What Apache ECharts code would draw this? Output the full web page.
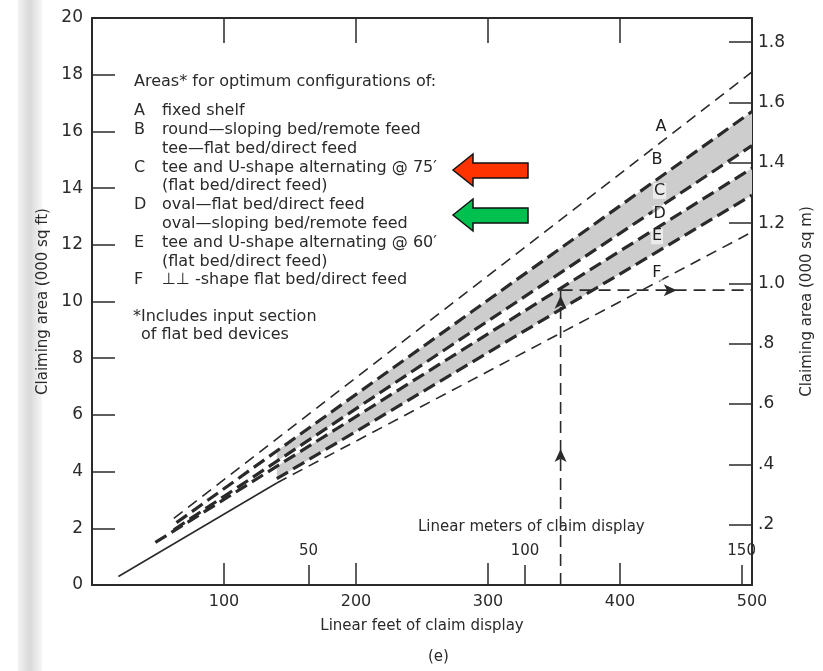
<!DOCTYPE html>
<html>
<head>
<meta charset="utf-8">
<script src="https://cdn.jsdelivr.net/npm/echarts@6/dist/echarts.min.js"></script>
<style>
  html, body { margin: 0; padding: 0; background: #fff; }
  #chart { width: 823px; height: 671px; }
</style>
</head>
<body>
<div id="chart"></div>
<script>
// === DATA ===
// x: linear feet of claim display, y: claiming area (000 sq ft)
const lineA = [[62, 2.35], [500, 18.1]];
const lineB = [[64, 2.2], [500, 16.7]];
const lineC = [[62, 1.95], [500, 15.5]];
const lineD = [[48, 1.5], [500, 14.7]];
const lineE = [[140, 3.75], [500, 13.75]];
const lineF = [[140, 3.6], [500, 12.45]];
const lineBase = [[20, 0.3], [140, 3.6]];

// shaded areas: [x, lower, upper]
const bandBC = [[140, 4.36, 4.73], [500, 15.5, 16.7]];
const bandDE = [[140, 3.75, 4.19], [500, 13.75, 14.7]];

// worked example: 355 ft -> 10.4 (000 sq ft)
const exampleUp = [[355, 0], [355, 10.4]];
const exampleAcross = [[355, 10.4], [500, 10.4]];
const exampleArrows = [[355, 4.8, 0], [355, 10.2, 0], [443, 10.4, -90]];

const letterNames = ['A', 'B', 'C', 'D', 'E', 'F'];
const letterPoints = [[431, 16.15], [428, 15.0], [430, 13.9], [430, 13.1], [428, 12.3], [428, 11.0]];

const feetTicks = [0, 100, 200, 300, 400, 500];
const meterTickLabels = [50, 100, 150];
const sqmLabels = ['.2', '.4', '.6', '.8', '1.0', '1.2', '1.4', '1.6', '1.8'];

const keyLines = [
    ['A', 'fixed shelf'],
    ['B', 'round\u2014sloping bed/remote feed'],
    ['', 'tee\u2014flat bed/direct feed'],
    ['C', 'tee and U-shape alternating @ 75\u2032'],
    ['', '(flat bed/direct feed)'],
    ['D', 'oval\u2014flat bed/direct feed'],
    ['', 'oval\u2014sloping bed/remote feed'],
    ['E', 'tee and U-shape alternating @ 60\u2032'],
    ['', '(flat bed/direct feed)'],
    ['F', '\u22A5\u22A5 -shape flat bed/direct feed']
];

const FT_PER_M = 3.28084;
const SQM_AXIS_MAX = 1.88;   // right scale as printed (0 .. just above 1.8)
const FONT = '"DejaVu Sans", "Open Sans", sans-serif';
const INK = '#2a2a2a';

const chart = echarts.init(document.getElementById('chart'));

function bandSeries(band) {
    return {
        type: 'custom',
        xAxisIndex: 0,
        yAxisIndex: 0,
        silent: true,
        z: 1,
        data: [0],
        renderItem: function (params, api) {
            const upper = band.map(p => api.coord([p[0], p[2]]));
            const lower = band.slice().reverse().map(p => api.coord([p[0], p[1]]));
            return {
                type: 'polygon',
                shape: { points: upper.concat(lower) },
                style: { fill: '#cdcdcd' }
            };
        }
    };
}

function dashLine(data, width, dash) {
    return {
        type: 'line',
        data: data,
        symbol: 'none',
        silent: true,
        z: 3,
        lineStyle: { color: INK, width: width, type: dash }
    };
}

// key text block
const keyFont = '16px ' + FONT;
const keyGraphics = [
    { type: 'text', left: 134, top: 74, style: { text: 'Areas* for optimum configurations of:', font: keyFont, fill: INK } }
];
keyLines.forEach((row, i) => {
    const y = 103 + i * 18.8;
    if (row[0]) {
        keyGraphics.push({ type: 'text', left: 134, top: y, style: { text: row[0], font: keyFont, fill: INK } });
    }
    keyGraphics.push({ type: 'text', left: 162, top: y, style: { text: row[1], font: keyFont, fill: INK } });
});
keyGraphics.push({ type: 'text', left: 133, top: 309, style: { text: '*Includes input section', font: keyFont, fill: INK } });
keyGraphics.push({ type: 'text', left: 141, top: 327, style: { text: 'of flat bed devices', font: keyFont, fill: INK } });

const option = {
    backgroundColor: '#fff',
    animation: false,
    textStyle: { fontFamily: FONT },
    grid: { left: 92, right: 69, top: 18, bottom: 86 },
    xAxis: [
        {
            type: 'value', position: 'bottom', min: 0, max: 500, interval: 100,
            axisLine: { onZero: false, lineStyle: { color: INK, width: 2 } },
            axisTick: { inside: true, length: 22, lineStyle: { color: INK, width: 1.5 } },
            axisLabel: {
                color: INK, fontSize: 16, margin: 9,
                formatter: v => (feetTicks.indexOf(v) > 0 ? String(v) : '')
            },
            splitLine: { show: false },
            name: 'Linear feet of claim display', nameLocation: 'middle', nameGap: 34,
            nameTextStyle: { color: INK, fontSize: 15 }
        },
        {
            type: 'value', position: 'top', min: 0, max: 500, interval: 100,
            axisLine: { onZero: false, lineStyle: { color: INK, width: 2 } },
            axisTick: { inside: true, length: 25, lineStyle: { color: INK, width: 1.5 } },
            axisLabel: { show: false },
            splitLine: { show: false }
        },
        {
            type: 'value', position: 'bottom', min: 0, max: 500 / FT_PER_M, interval: 50,
            axisLine: { show: false, onZero: false },
            axisTick: { inside: true, length: 20, lineStyle: { color: INK, width: 1.5 } },
            axisLabel: {
                inside: true, color: INK, fontSize: 15, margin: 26,
                formatter: v => (meterTickLabels.indexOf(Math.round(v * 1000) / 1000) >= 0 ? String(v) : '')
            },
            splitLine: { show: false }
        }
    ],
    yAxis: [
        {
            type: 'value', position: 'left', min: 0, max: 20, interval: 2,
            axisLine: { onZero: false, lineStyle: { color: INK, width: 2 } },
            axisTick: { inside: true, length: 23, lineStyle: { color: INK, width: 1.5 } },
            axisLabel: { color: INK, fontSize: 17, margin: 9 },
            splitLine: { show: false },
            name: 'Claiming area (000 sq ft)', nameLocation: 'middle', nameGap: 38, nameRotate: 90,
            nameTextStyle: { color: INK, fontSize: 15 }
        },
        {
            type: 'value', position: 'right', min: 0, max: SQM_AXIS_MAX, interval: 0.2,
            axisLine: { onZero: false, lineStyle: { color: INK, width: 2 } },
            axisTick: { inside: true, length: 23, lineStyle: { color: INK, width: 1.5 } },
            axisLabel: {
                color: INK, fontSize: 17, margin: 6,
                formatter: v => {
                    const k = Math.round(v / 0.2);
                    return (Math.abs(v / 0.2 - k) < 1e-6 && k >= 1 && k <= sqmLabels.length) ? sqmLabels[k - 1] : '';
                }
            },
            splitLine: { show: false },
            name: 'Claiming area (000 sq m)', nameLocation: 'middle', nameGap: 48, nameRotate: 90,
            nameTextStyle: { color: INK, fontSize: 15 }
        }
    ],
    series: [
        bandSeries(bandBC),
        bandSeries(bandDE),
        dashLine(lineA, 1.6, [11, 7]),
        dashLine(lineB, 3.2, [13, 6]),
        dashLine(lineC, 3.2, [13, 6]),
        dashLine(lineD, 3.2, [13, 6]),
        dashLine(lineE, 3.2, [13, 6]),
        dashLine(lineF, 1.6, [11, 7]),
        dashLine(lineBase, 1.6, 'solid'),
        dashLine(exampleUp, 1.6, [12, 7]),
        dashLine(exampleAcross, 1.6, [12, 7]),
        {
            type: 'scatter',
            silent: true,
            z: 4,
            data: exampleArrows.map(p => ({ value: [p[0], p[1]], symbolRotate: p[2] })),
            symbol: 'arrow',
            symbolSize: [9, 13],
            itemStyle: { color: INK, opacity: 1 }
        },
        {
            type: 'scatter',
            silent: true,
            z: 5,
            symbolSize: 0,
            itemStyle: { opacity: 1 },
            data: letterPoints.map((p, i) => ({ value: p, name: letterNames[i] })),
            label: {
                show: true, position: 'inside', formatter: '{b}',
                color: '#1e1e1e', fontSize: 16, textBorderWidth: 0,
                backgroundColor: 'rgba(255,255,255,0.6)', padding: [0, 1]
            }
        }
    ],
    graphic: [
        // scan shadow on the left edge
        {
            type: 'rect', left: 18, top: 0, silent: true, z: -1,
            shape: { width: 24, height: 671 },
            style: {
                fill: new echarts.graphic.LinearGradient(0, 0, 1, 0, [
                    { offset: 0, color: 'rgba(170,170,170,0.15)' },
                    { offset: 0.5, color: 'rgba(170,170,170,0.45)' },
                    { offset: 1, color: 'rgba(170,170,170,0.1)' }
                ])
            }
        },
        { type: 'text', left: 418, top: 520, style: { text: 'Linear meters of claim display', font: '15px ' + FONT, fill: INK } },
        { type: 'text', left: 428, top: 650, style: { text: '(e)', font: '15px ' + FONT, fill: INK } },
        // red arrow
        {
            type: 'polygon', z: 10,
            shape: { points: [[453, 170], [473, 154], [473, 163], [528, 163], [528, 178], [473, 178], [473, 186]] },
            style: { fill: '#ff3300', stroke: '#111', lineWidth: 1.5 }
        },
        // green arrow
        {
            type: 'polygon', z: 10,
            shape: { points: [[453, 215], [473, 199], [473, 208], [528, 208], [528, 223], [473, 223], [473, 231]] },
            style: { fill: '#00c050', stroke: '#111', lineWidth: 1.5 }
        }
    ].concat(keyGraphics)
};

chart.setOption(option);
window.addEventListener('resize', () => chart.resize());
</script>
</body>
</html>
